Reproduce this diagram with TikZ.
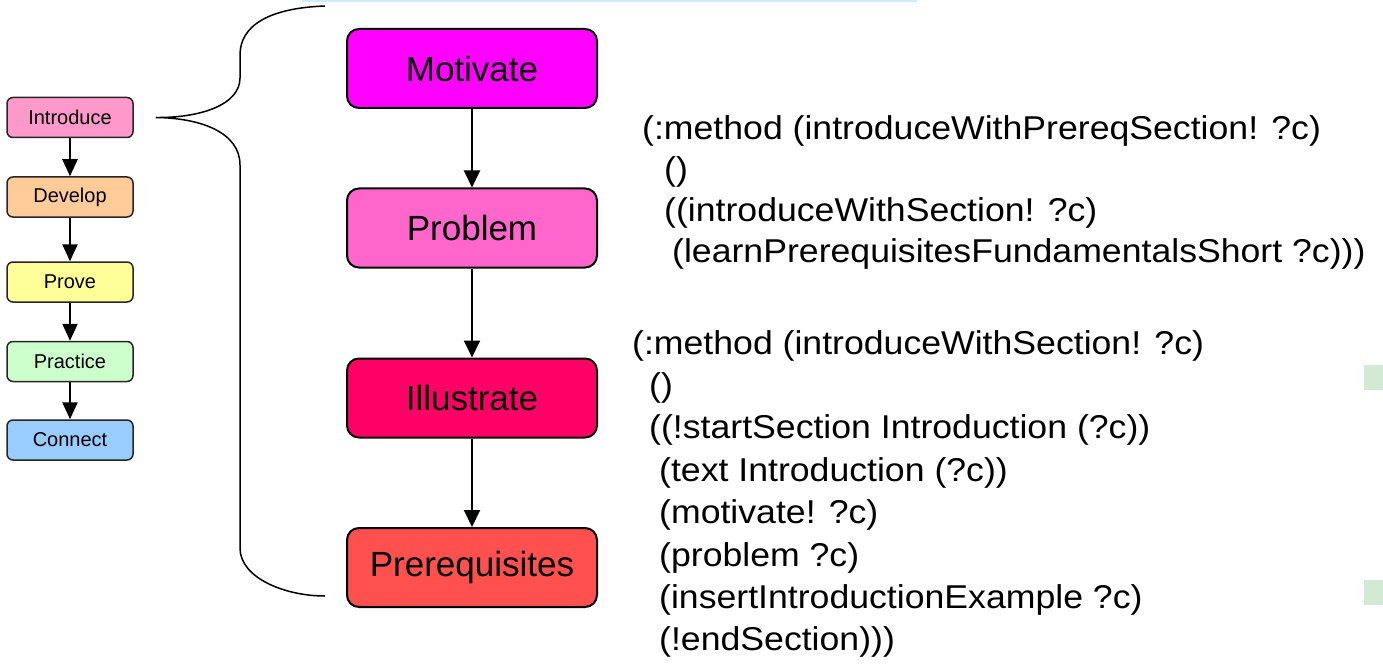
\documentclass[tikz,border=0pt]{standalone}
\usepackage{fontspec}
\setmainfont{Liberation Sans}
\newfontfamily\codefont[FakeStretch=1.08]{Liberation Sans}
\usetikzlibrary{arrows.meta}
\definecolor{pinkintro}{RGB}{255,153,204}
\definecolor{orangedev}{RGB}{255,204,153}
\definecolor{yellowprove}{RGB}{255,255,153}
\definecolor{greenpract}{RGB}{204,255,204}
\definecolor{blueconn}{RGB}{153,204,255}
\definecolor{magmot}{RGB}{255,0,255}
\definecolor{pinkprob}{RGB}{255,102,204}
\definecolor{redill}{RGB}{255,0,102}
\definecolor{redpre}{RGB}{255,80,80}
\definecolor{stripblue}{RGB}{204,236,255}
\definecolor{squaregreen}{RGB}{210,234,212}

\begin{document}
\begin{tikzpicture}[x=1pt,y=-1pt,
	phase/.style={draw=black!85,line width=1.5pt,rounded corners=6pt,minimum width=126pt,minimum height=40pt,inner sep=0pt,font=\fontsize{20}{24}\selectfont},
	part/.style={draw=black,line width=2pt,rounded corners=12pt,minimum width=250pt,minimum height=79pt,inner sep=0pt,font=\fontsize{35}{42}\selectfont},
	flow/.style={line width=2pt,-{Triangle[length=17pt,width=16pt]}},
	smallflow/.style={line width=2.3pt,-{Triangle[length=17pt,width=15pt]}},
	code/.style={anchor=base west,inner sep=0pt,font=\codefont\fontsize{33}{40}\selectfont}]
			\useasboundingbox (0,0) rectangle (1383,671);
			\fill[stripblue] (302,0) rectangle (917,2.5);
			\fill[squaregreen] (1364,365) rectangle (1383,390);
			\fill[squaregreen] (1364,580) rectangle (1383,605);
			
			% left column
			\node[phase,fill=pinkintro] (intro) at (70,117.5) {Introduce};
			\node[phase,fill=orangedev] (dev) at (70,197) {Develop};
			\node[phase,fill=yellowprove] (prove) at (70,282) {Prove};
			\node[phase,fill=greenpract] (pract) at (70,361.5) {Practice};
			\node[phase,fill=blueconn] (conn) at (70,440) {Connect};
			\draw[smallflow] (intro) -- (dev);
			\draw[smallflow] (dev) -- (prove);
			\draw[smallflow] (prove) -- (pract);
			\draw[smallflow] (pract) -- (conn);
			
			% brace
			\coordinate (tip) at ([xshift=22pt]intro.east);
			\draw[line width=1.5pt] (325,6) .. controls (270,8) and (240,25) .. (240,55) -- (240,78) .. controls (240,105) and (200,118) .. (tip) .. controls (200,118) and (240,132) .. (240,165) -- (240,548) .. controls (240,578) and (285,596) .. (325,596);
			
			% middle column
			\node[part,fill=magmot] (mot) at (472,68.5) {Motivate};
			\node[part,fill=pinkprob] (prob) at (472,228) {Problem};
			\node[part,fill=redill] (ill) at (472,398) {Illustrate};
			\node[part,fill=redpre] (pre) at (472,567.5) {Prerequisites};
			\draw[flow] (mot) -- (prob);
			\draw[flow] (prob) -- (ill);
			\draw[flow] (ill) -- (pre);
			
			% methods
			\foreach \dx/\t [count=\i] in {0/{(:method (introduceWithPrereqSection! ?c)},22/{()},22/{((introduceWithSection! ?c)},30/{(learnPrerequisitesFundamentalsShort ?c)))}}
				\node[code] (pa\i) at (642+\dx,140+40.7*\i-40.7) {\t};
			\foreach \dx/\t [count=\i] in {0/{(:method (introduceWithSection! ?c)},17/{()},17/{((!startSection Introduction (?c))},27/{(text Introduction (?c))},27/{(motivate! ?c)},27/{(problem ?c)},27/{(insertIntroductionExample ?c)},27/{(!endSection)))}}
				\node[code] (pb\i) at (632+\dx,354+42.4*\i-42.4) {\t};
			\end{tikzpicture}
\end{document}
